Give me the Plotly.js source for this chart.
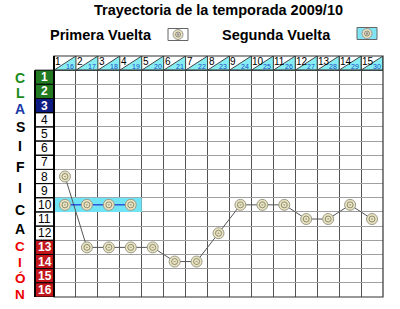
<!DOCTYPE html>
<html>
<head>
<meta charset="utf-8">
<script src="https://cdn.plot.ly/plotly-3.0.1.min.js"></script>
<style>html,body{margin:0;padding:0;background:#fff;}#chart{width:400px;height:309px;}</style>
</head>
<body>
<div id="chart"></div>
<script>
// ---- data ----
const jornadasPrimera = [1,2,3,4,5,6,7,8,9,10,11,12,13,14,15];
const jornadasSegunda = [16,17,18,19,20,21,22,23,24,25,26,27,28,29,30];
const posPrimera = [8,13,13,13,13,14,14,12,10,10,10,11,11,10,11];
const posSegunda = [10,10,10,10];
const puestos = [1,2,3,4,5,6,7,8,9,10,11,12,13,14,15,16];
const letras = ['C','L','A','S','I','F','I','C','A','C','I','Ó','N'];
const titulo = 'Trayectoria de la temporada 2009/10';
const nombreSerie1 = 'Primera Vuelta';
const nombreSerie2 = 'Segunda Vuelta';

// ---- styling helpers ----
const FONT = 'Liberation Sans, Arial, sans-serif';
const L = 54, R = 383, T = 56, B = 297;
const PW = R - L, PH = B - T;
const pxX = p => (p - L) / PW;
const pxY = p => (B - p) / PH;
const nCols = jornadasPrimera.length;
const nRows = puestos.length;

function rowFill(r) {
  if (r <= 2) return '#217a21';
  if (r === 3) return '#0c1c82';
  if (r >= 13) return '#c2161c';
  return null;
}

const shapes = [];
const annotations = [];

// cyan highlight for second round row
const seg2Cols = posSegunda.map((p, i) => i + 1);
shapes.push({type:'rect', xref:'x', yref:'y', layer:'between',
  x0: seg2Cols[0] - 0.5, x1: seg2Cols[seg2Cols.length-1] + 0.5,
  y0: posSegunda[0] - 0.5, y1: posSegunda[0] + 0.5,
  fillcolor:'#70e4f4', line:{width:0}});

// header cells
jornadasPrimera.forEach((j, i) => {
  const c = i + 1;
  shapes.push({type:'path', xref:'x', yref:'y', layer:'between',
    path:`M ${c-0.5},0.5 L ${c+0.5},0.5 L ${c+0.5},-0.5 Z`,
    fillcolor:'#86eef2', line:{color:'#444', width:1}});
  annotations.push({xref:'x', yref:'y', x:c-0.5, y:-0.5, xanchor:'left', yanchor:'top',
    xshift:0, yshift:1, text:String(j), showarrow:false, borderpad:0,
    font:{family:FONT, size:10, color:'#000'}});
  annotations.push({xref:'x', yref:'y', x:c+0.5, y:0.5, xanchor:'right', yanchor:'bottom',
    xshift:-1, yshift:-1, text:String(jornadasSegunda[i]), showarrow:false, borderpad:0,
    font:{family:FONT, size:7, color:'#1a48c8'}});
});

// position column
puestos.forEach(r => {
  const f = rowFill(r);
  const cell = {type:'rect', xref:'paper', yref:'y', layer:'above',
    x0: pxX(35), x1: 0, y0: r - 0.5, y1: r + 0.5, line:{color:'#000', width:1}};
  if (f) cell.fillcolor = f;
  shapes.push(cell);
  annotations.push({xref:'paper', yref:'y', x: pxX(44.5), y: r, xanchor:'center', yanchor:'middle',
    text: f ? '<b>' + r + '</b>' : String(r), showarrow:false, borderpad:0,
    font:{family:FONT, size:12, color: f ? '#fff' : '#000'}});
});

// grid borders
shapes.push({type:'line', xref:'paper', yref:'y', x0:0, x1:1, y0:0.5, y1:0.5, line:{color:'#333', width:1}, layer:'above'});
shapes.push({type:'rect', xref:'paper', yref:'paper', x0:0, x1:1, y0:0, y1:1, line:{color:'#333', width:1.2}, layer:'above'});
shapes.push({type:'line', xref:'paper', yref:'y', x0:pxX(35), x1:pxX(35), y0:0.5, y1:16.5, line:{color:'#000', width:2}, layer:'above'});
shapes.push({type:'line', xref:'paper', yref:'y', x0:0, x1:0, y0:-0.5, y1:16.5, line:{color:'#000', width:2}, layer:'above'});

// vertical word
const letraY = [78, 93, 109, 127, 146, 167, 188, 210, 229, 246, 262, 278, 294];
const letraSize = [14,14,14,14,14,14,14,14,14,13.5,13.5,13.5,13.5];
const letraColor = ['#1b8a1b','#1b8a1b','#1c3aa8','#000','#000','#000','#000','#000','#000','#ee0000','#ee0000','#ee0000','#ee0000'];
letras.forEach((t, i) => {
  annotations.push({xref:'paper', yref:'paper', x: pxX(20), y: pxY(letraY[i]), xanchor:'center', yanchor:'middle',
    text:'<b>' + t + '</b>', showarrow:false, borderpad:0, font:{family:FONT, size:letraSize[i], color:letraColor[i]}});
});

// legend
annotations.push({xref:'paper', yref:'paper', x: pxX(101), y: pxY(35), xanchor:'center', yanchor:'middle',
  text:'<b>' + nombreSerie1 + '</b>', showarrow:false, font:{family:FONT, size:14.5, color:'#000'}});
annotations.push({xref:'paper', yref:'paper', x: pxX(276), y: pxY(35), xanchor:'center', yanchor:'middle',
  text:'<b>' + nombreSerie2 + '</b>', showarrow:false, font:{family:FONT, size:14.5, color:'#000'}});
function legendIcon(cx, cy, fill) {
  shapes.push({type:'rect', xref:'paper', yref:'paper', x0:pxX(cx-10), x1:pxX(cx+10), y0:pxY(cy+6), y1:pxY(cy-6),
    fillcolor:fill, line:{color:'#666', width:1}});
  [[5,'#e9e2bc','#999'],[2.5,'#e9e2bc','#888'],[0.8,'#888','#888']].forEach(([r, f, lc]) => {
    shapes.push({type:'circle', xref:'paper', yref:'paper', x0:pxX(cx-r), x1:pxX(cx+r), y0:pxY(cy+r), y1:pxY(cy-r),
      fillcolor:f, line:{color:lc, width:1}});
  });
}
legendIcon(178, 34.5, '#ffffff');
legendIcon(367, 33.5, '#80e4f2');

// ---- traces ----
const x1 = jornadasPrimera.map((j, i) => i + 1);
const x2 = posSegunda.map((p, i) => i + 1);
const mk = {size:11, color:'#ebe4c0', line:{color:'#9a9a8a', width:1}};
const mkIn = {size:6, symbol:'circle-open-dot', color:'#8c8c74', line:{width:1}};
const traces = [
  {x:x1, y:posPrimera, mode:'lines+markers', line:{color:'#555', width:1}, marker:mk, hoverinfo:'skip', showlegend:false},
  {x:x1, y:posPrimera, mode:'markers', marker:mkIn, hoverinfo:'skip', showlegend:false},
  {x:x2, y:posSegunda, mode:'lines+markers', line:{color:'#1010c8', width:1}, marker:mk, hoverinfo:'skip', showlegend:false},
  {x:x2, y:posSegunda, mode:'markers', marker:mkIn, hoverinfo:'skip', showlegend:false}
];

const xt = []; for (let i = 0; i <= nCols; i++) xt.push(i + 0.5);
const yt = []; for (let i = -1; i <= nRows; i++) yt.push(i + 0.5);

const layout = {
  width:400, height:309,
  margin:{l:L, r:400-R, t:T, b:309-B, pad:0},
  paper_bgcolor:'#fff', plot_bgcolor:'#fff',
  title:{text:'<b>' + titulo + '</b>', x:0.5, xref:'paper', y:1 - 10/309, yref:'container', yanchor:'middle',
    font:{family:FONT, size:14.5, color:'#000'}},
  xaxis:{range:[0.5, nCols + 0.5], tickvals:xt, showticklabels:false, ticks:'', showgrid:true,
    gridcolor:'#555', gridwidth:1, zeroline:false, showline:false, fixedrange:true},
  yaxis:{range:[nRows + 0.5, -0.5], tickvals:yt, showticklabels:false, ticks:'', showgrid:true,
    gridcolor:'#a0a0a0', gridwidth:1, zeroline:false, showline:false, fixedrange:true},
  shapes:shapes,
  annotations:annotations,
  showlegend:false
};
Plotly.newPlot('chart', traces, layout, {displayModeBar:false, staticPlot:true});
</script>
</body>
</html>
